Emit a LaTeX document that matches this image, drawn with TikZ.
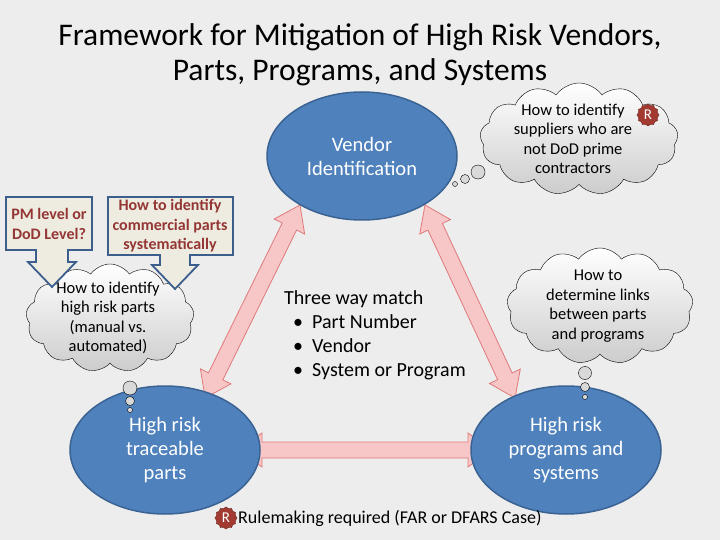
\documentclass[tikz,border=0pt]{standalone}
\usepackage{fontspec}
\setmainfont{Carlito}
\usetikzlibrary{shapes.symbols,shapes.geometric}
\definecolor{bg}{HTML}{EDEDED}
\definecolor{cblue}{HTML}{4F81BD}
\definecolor{cblueD}{HTML}{3A6393}
\definecolor{pinkF}{HTML}{F7C6C6}
\definecolor{pinkD}{HTML}{E07A7A}
\definecolor{boxF}{HTML}{EEECE1}
\definecolor{boxD}{HTML}{3B5E8C}
\definecolor{redT}{HTML}{943634}
\definecolor{badge}{HTML}{A33A32}
\tikzset{
  circ/.style={ellipse,draw=cblueD,line width=1.5pt,fill=cblue,text=white,align=center,font=\fontsize{20.5}{24}\selectfont,minimum width=190,minimum height=128},
  cloudn/.style={cloud,cloud puffs=13,cloud puff arc=110,aspect=1.7,draw=black,thin,top color=white,bottom color=black!20,inner sep=0pt},
  cloudt/.style={align=center,font=\fontsize{16.5}{19.5}\selectfont,inner sep=0pt},
  bub/.style={circle,draw=black,thin,fill=black!15,inner sep=0pt},
  fat/.style={draw=pinkD,fill=pinkF,line width=0.8pt},
  call/.style={draw=boxD,fill=boxF,line width=1.8pt,line join=miter},
  redtxt/.style={text=redT,align=center,font=\fontsize{16}{19.5}\selectfont\bfseries},
  badgen/.style={star,star points=12,star point ratio=1.15,fill=badge,draw=badge!70!black,text=white,inner sep=2pt,font=\fontsize{15}{15}\selectfont}
}
\begin{document}
\begin{tikzpicture}[x=1pt,y=-1pt]
\fill[bg] (0,0) rectangle (720,540);
\useasboundingbox (0,0) rectangle (720,540);
\node (t1) at (360,37) {\fontsize{31.5}{36}\selectfont Framework for Mitigation of High Risk Vendors,};
\node (t2) at (360,72) {\fontsize{31.5}{36}\selectfont Parts, Programs, and Systems};
% arrows
\begin{scope}[shift={(300,205)},rotate=243.8]
\draw[fat] (0,0) -- (24,-17) -- (24,-8) -- (191,-8) -- (191,-17) -- (215,0) -- (191,17) -- (191,8) -- (24,8) -- (24,17) -- cycle;
\end{scope}
\begin{scope}[shift={(425,205)},rotate=-65]
\draw[fat] (0,0) -- (24,-17) -- (24,-8) -- (189,-8) -- (189,-17) -- (213,0) -- (189,17) -- (189,8) -- (24,8) -- (24,17) -- cycle;
\end{scope}
\begin{scope}[shift={(238,450)}]
\draw[fat] (0,0) -- (24,-17) -- (24,-8) -- (230,-8) -- (230,-17) -- (254,0) -- (230,17) -- (230,8) -- (24,8) -- (24,17) -- cycle;
\end{scope}
% circles
\node[circ] (v) at (362,156) {Vendor\\Identification};
\node[circ] (p) at (165,450) {High risk\\traceable\\parts};
\node[circ] (s) at (566,450) {High risk\\programs and\\systems};
% clouds
\node[cloudn,minimum width=198,minimum height=112] (c1) at (579,139) {};
\node[cloudt] (c1t) at (573,139) {How to identify\\suppliers who are\\not DoD prime\\contractors};
\node[badgen] (b1) at (648,115) {R};
\node[bub,minimum size=5] (c1a) at (455,184) {};
\node[bub,minimum size=9] (c1b) at (465,179) {};
\node[bub,minimum size=14] (c1c) at (478,172) {};
\node[cloudn,minimum width=168,minimum height=108] (c2) at (110,318) {};
\node[cloudt] (c2t) at (108,318) {How to identify\\high risk parts\\(manual vs.\\automated)};
\node[bub,minimum size=14] (c2a) at (130,388) {};
\node[bub,minimum size=9] (c2b) at (130,401) {};
\node[bub,minimum size=5] (c2c) at (130,410) {};
\node[cloudn,minimum width=186,minimum height=116] (c3) at (600,306) {};
\node[cloudt] (c3t) at (598,306) {How to\\determine links\\between parts\\and programs};
\node[bub,minimum size=13] (c3a) at (585,373) {};
\node[bub,minimum size=9] (c3b) at (585,387) {};
\node[bub,minimum size=5] (c3c) at (585,397) {};
% callouts
\draw[call] (6,197) -- (92,197) -- (92,250) -- (68,250) -- (68,262) -- (76,262) -- (52,287) -- (28,262) -- (36,262) -- (36,250) -- (6,250) -- cycle;
\node[redtxt] (pm) at (49,224) {PM level or\\DoD Level?};
\draw[call] (108,197) -- (233,197) -- (233,255) -- (190,255) -- (190,265) -- (198,265) -- (175,289) -- (152,265) -- (160,265) -- (160,255) -- (108,255) -- cycle;
\node[redtxt] (cp) at (170,226) {How to identify\\commercial parts\\systematically};
% three way match
\node[anchor=north west,align=left,font=\fontsize{20}{24}\selectfont,inner sep=0pt] (tw) at (284,290) {Three way match\\
\ \ \textbullet\ \ Part Number\\
\ \ \textbullet\ \ Vendor\\
\ \ \textbullet\ \ System or Program};
% bottom
\node[badgen] (b2) at (226,518) {R};
\node[anchor=west,font=\fontsize{18}{20}\selectfont,inner sep=0pt] (rl) at (238,518) {Rulemaking required (FAR or DFARS Case)};
\end{tikzpicture}
\end{document}
